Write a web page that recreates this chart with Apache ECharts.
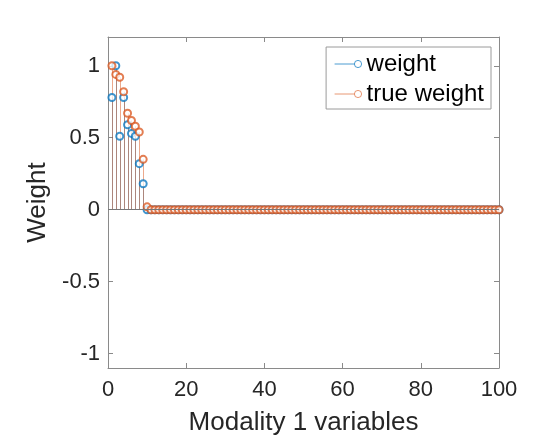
<!DOCTYPE html>
<html>
<head>
<meta charset="utf-8">
<script src="https://cdn.jsdelivr.net/npm/echarts@6/dist/echarts.min.js"></script>
<style>html,body{margin:0;padding:0;background:#fff}#c{width:543px;height:441px}</style>
</head>
<body>
<div id="c"></div>
<script>
var xValues = [1,2,3,4,5,6,7,8,9,10,11,12,13,14,15,16,17,18,19,20,21,22,23,24,25,26,27,28,29,30,31,32,33,34,35,36,37,38,39,40,41,42,43,44,45,46,47,48,49,50,51,52,53,54,55,56,57,58,59,60,61,62,63,64,65,66,67,68,69,70,71,72,73,74,75,76,77,78,79,80,81,82,83,84,85,86,87,88,89,90,91,92,93,94,95,96,97,98,99,100];
var weight = [0.78,1.0,0.51,0.78,0.59,0.53,0.51,0.32,0.18,0,0,0,0,0,0,0,0,0,0,0,0,0,0,0,0,0,0,0,0,0,0,0,0,0,0,0,0,0,0,0,0,0,0,0,0,0,0,0,0,0,0,0,0,0,0,0,0,0,0,0,0,0,0,0,0,0,0,0,0,0,0,0,0,0,0,0,0,0,0,0,0,0,0,0,0,0,0,0,0,0,0,0,0,0,0,0,0,0,0,0];
var trueWeight = [1.0,0.94,0.92,0.82,0.67,0.62,0.58,0.54,0.35,0.02,0,0,0,0,0,0,0,0,0,0,0,0,0,0,0,0,0,0,0,0,0,0,0,0,0,0,0,0,0,0,0,0,0,0,0,0,0,0,0,0,0,0,0,0,0,0,0,0,0,0,0,0,0,0,0,0,0,0,0,0,0,0,0,0,0,0,0,0,0,0,0,0,0,0,0,0,0,0,0,0,0,0,0,0,0,0,0,0,0,0];
var xTicks = [0,20,40,60,80,100];
var yTicks = [-1,-0.5,0,0.5,1];
var seriesNames = ['weight','true weight'];

var BLUE = '#0072BD', ORANGE = '#D95319', AX = '#8a8a8a', TXT = '#262626';
var FONT = 'Liberation Sans';

function pairs(vals){ return xValues.map(function(x,i){ return [x, vals[i]]; }); }

function stemSeries(name, vals, color){
  return {
    name: name, type: 'custom', xAxisIndex: 0, yAxisIndex: 0,
    data: pairs(vals), silent: true, legendHoverLink: false,
    renderItem: function(params, api){
      var p0 = api.coord([api.value(0), 0]);
      var p1 = api.coord([api.value(0), api.value(1)]);
      var x = Math.round(p0[0]) + 0.5;
      return {type:'line', shape:{x1:x,y1:p0[1],x2:x,y2:p1[1]},
        style:{stroke:color, lineWidth:1, opacity:0.5}};
    },
    z: 2
  };
}
function markerSeries(name, vals, color){
  return {
    name: name, type: 'scatter', data: pairs(vals), symbol: 'emptyCircle', symbolSize: 7,
    itemStyle: {color: color, borderColor: color, borderWidth: 0.6, opacity: 0.75},
    emphasis: {disabled: true}, z: 3
  };
}

var ICON = 'path://M0,5 L22,5 M22,5 A4,4 0 1 1 30,5 A4,4 0 1 1 22,5';
var chart = echarts.init(document.getElementById('c'), null, {renderer:'canvas'});
chart.setOption({
  animation: false,
  backgroundColor: '#fff',
  grid: {left:108, right:44, top:37, bottom:70, show:false},
  legend: {
    show: true, right: 52, top: 47, orient: 'vertical', itemGap: 6,
    padding: [5,7,3,6], borderColor: '#9a9a9a', borderWidth: 1, backgroundColor:'#fff',
    itemWidth: 27, itemHeight: 9,
    textStyle: {fontFamily: FONT, fontSize: 24, color: '#000'},
    data: [
      {name: seriesNames[0], icon: ICON, itemStyle:{color:'none', borderColor:BLUE, borderWidth:1, opacity:0.7}},
      {name: seriesNames[1], icon: ICON, itemStyle:{color:'none', borderColor:ORANGE, borderWidth:1, opacity:0.6}}
    ]
  },
  xAxis: [{
    type:'value', min:0, max:100, interval:20, position:'bottom',
    name:'Modality 1 variables', nameLocation:'middle', nameGap:42,
    nameTextStyle:{fontFamily:FONT, fontSize:26, color:TXT},
    axisLine:{show:true, onZero:false, lineStyle:{color:AX, width:1}},
    axisTick:{show:true, inside:true, length:5, lineStyle:{color:AX}},
    axisLabel:{show:true, color:TXT, fontFamily:FONT, fontSize:22, margin:11},
    splitLine:{show:false}
  },{
    type:'value', min:0, max:100, interval:20, position:'top',
    axisLine:{show:true, onZero:false, lineStyle:{color:AX, width:1}},
    axisTick:{show:true, inside:true, length:5, lineStyle:{color:AX}},
    axisLabel:{show:false}, splitLine:{show:false}
  }],
  yAxis: [{
    type:'value', min:-1.1, max:1.2, position:'left',
    name:'Weight', nameLocation:'middle', nameGap:45, nameRotate:90,
    nameTextStyle:{fontFamily:FONT, fontSize:26, color:TXT},
    axisLine:{show:true, onZero:false, lineStyle:{color:AX, width:1}},
    axisTick:{show:true, inside:true, length:5, lineStyle:{color:AX}, customValues: yTicks},
    axisLabel:{show:true, color:TXT, fontFamily:FONT, fontSize:22, margin:8,
      customValues: yTicks, formatter: function(v){ return String(v); }},
    splitLine:{show:false}
  },{
    type:'value', min:-1.1, max:1.2, position:'right',
    axisLine:{show:true, onZero:false, lineStyle:{color:AX, width:1}},
    axisTick:{show:true, inside:true, length:5, lineStyle:{color:AX}, customValues: yTicks},
    axisLabel:{show:false}, splitLine:{show:false}
  }],
  series: [
    stemSeries('weight_stem', weight, BLUE),
    markerSeries(seriesNames[0], weight, BLUE),
    stemSeries('true_stem', trueWeight, ORANGE),
    markerSeries(seriesNames[1], trueWeight, ORANGE),
    {
      name:'baseline', type:'line', data:[], silent:true,
      markLine:{silent:true, symbol:'none', label:{show:false},
        lineStyle:{color:'#777', width:1, type:'solid'},
        data:[[{coord:[0,0]},{coord:[100,0]}]]}
    }
  ]
});
</script>
</body>
</html>
